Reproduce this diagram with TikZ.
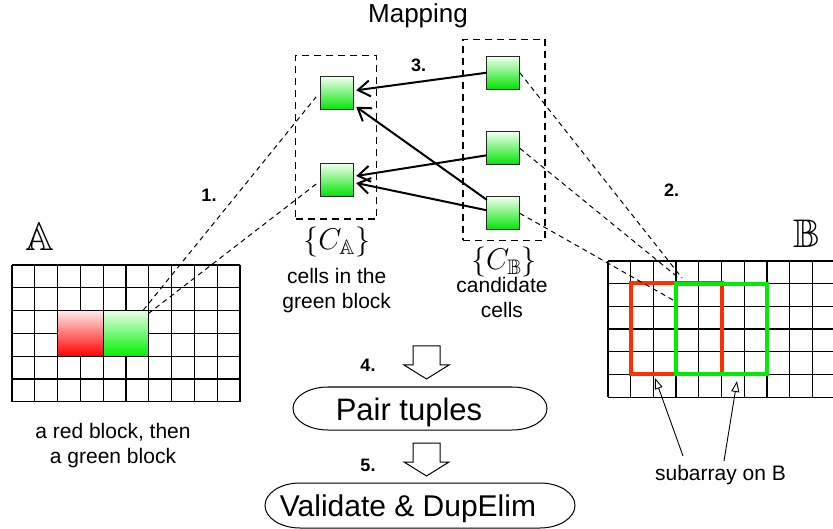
\documentclass[tikz,border=0pt]{standalone}
\usepackage{fix-cm}
\usepackage{amssymb}
\usepackage{fontspec}
\setmainfont{Liberation Sans}
\usetikzlibrary{arrows.meta,calc}
\definecolor{sqgreen}{RGB}{0,228,0}
\definecolor{sqtop}{RGB}{242,255,242}
\definecolor{blkgreen}{RGB}{0,240,0}
\definecolor{blkred}{RGB}{255,0,0}
\definecolor{rectred}{RGB}{255,48,0}
\definecolor{rectgreen}{RGB}{0,236,0}
\begin{document}
\begin{tikzpicture}[x=1pt,y=-1pt,
  gridline/.style={line width=1.25pt,black},
  cellsq/.style={draw=black!85,line width=0.8pt,minimum size=33pt,inner sep=0pt,outer sep=0pt,top color=sqtop,bottom color=sqgreen},
  setbox/.style={draw,line width=1.1pt,dash pattern=on 7pt off 5pt,inner sep=0pt,outer sep=0pt},
  linkline/.style={line width=1pt,dash pattern=on 5pt off 4pt},
  maparrow/.style={line width=2pt,-{Straight Barb[length=12pt,width=16pt]}},
  subarrow/.style={line width=0.9pt,-{Triangle[open,length=11pt,width=8pt,line width=0.9pt]}},
  blockA/.style={draw=black,line width=1pt,minimum width=45.6pt,minimum height=45.6pt,inner sep=0pt,outer sep=0pt},
  subrect/.style={line width=4pt,minimum size=90.8pt,inner sep=0pt,outer sep=0pt},
  lbl/.style={font=\fontsize{21}{25}\selectfont,inner sep=0pt,align=center},
  numlbl/.style={font=\bfseries\fontsize{18}{20}\selectfont,inner sep=0pt,anchor=base},
  proctext/.style={font=\fontsize{30}{34}\selectfont,inner sep=0pt,anchor=base},
  procline/.style={line width=1pt},
  bigletter/.style={font=\fontsize{40}{44}\selectfont,inner sep=0pt},
  setlbl/.style={font=\fontsize{30}{34}\selectfont,inner sep=0pt}
]
\useasboundingbox (0,0) rectangle (833,529);

% ---- grid A ----
\foreach \i in {0,...,10} \draw[gridline] ({12+22.8*\i},265) -- ({12+22.8*\i},401.8);
\foreach \j in {0,...,6} \draw[gridline] (12,{265+22.8*\j}) -- (240,{265+22.8*\j});
\node[blockA,top color={rgb,255:red,255;green,235;blue,235},bottom color=blkred] (redA) at (80.4,333.4) {};
\node[blockA,top color={rgb,255:red,235;green,255;blue,235},bottom color=blkgreen] (greenA) at (126,333.4) {};
\node[bigletter] (letA) at (40,236.5) {$\mathbb{A}$};

% ---- grid B ----
\begin{scope}
\clip (590,250) rectangle (833,410);
\foreach \i in {0,...,10} \draw[gridline] ({608+22.7*\i},261) -- ({608+22.7*\i},397.2);
\foreach \j in {0,...,6} \draw[gridline] (608,{261+22.7*\j}) -- (836,{261+22.7*\j});
\end{scope}
\node[subrect,draw=rectred] (redB) at (676.1,328.2) {};
\node[subrect,draw=rectgreen] (greenB) at (721.5,329.1) {};
\node[bigletter] (letB) at (806.5,234) {$\mathbb{B}$};

% ---- mapping ----
\node[anchor=base,font=\fontsize{26}{30}\selectfont,inner sep=0pt] (maptitle) at (418,23) {Mapping};
\node[setbox,minimum width=81pt,minimum height=163.3pt] (setA) at (336.2,137.4) {};
\node[setbox,minimum width=82pt,minimum height=201pt] (setB) at (504,140) {};
\node[cellsq] (L1) at (336.7,93.3) {};
\node[cellsq] (L2) at (336.7,180) {};
\node[cellsq] (R1) at (503.3,72.7) {};
\node[cellsq] (R2) at (503.3,148.3) {};
\node[cellsq] (R3) at (503.3,213.3) {};

\draw[maparrow] (R1.west) -- ($(L1.east)+(3,-3)$);
\draw[maparrow] ($(R3.north west)+(0,3)$) -- ($(L1.south east)+(3,-3)$);
\draw[maparrow] ($(R2.west)+(0,7)$) -- ($(L2.east)+(3,-4)$);
\draw[maparrow] ($(R3.west)+(0,-3)$) -- ($(L2.east)+(3,3)$);

\node[setlbl] (CA) at (336.7,242.5) {$\{C_{\mathbb{A}}\}$};
\node[setlbl] (CB) at (504,262.5) {$\{C_{\mathbb{B}}\}$};
\node[lbl,anchor=north] (cellsA) at (336.7,267.7) {cells in the\\green block};
\node[lbl,anchor=north] (cand) at (502,277.5) {candidate\\cells};

% ---- dashed links ----
\coordinate (a1) at ($(greenA.north east)+(-5.5,-0.5)$);
\coordinate (a2) at ($(greenA.north east)+(-0.5,3)$);
\draw[linkline] (a1) -- ($(L1.west)+(-4,3.5)$);
\draw[linkline] (a2) -- ($(L2.west)+(-4,4)$);
\coordinate (b1) at (682,278);
\coordinate (b2) at (680,279);
\coordinate (b3) at (673,300);
\draw[linkline] (R1.east) -- (b1);
\draw[linkline] (R2.east) -- (b2);
\draw[linkline] (R3.east) -- (b3);

% ---- numbers ----
\node[numlbl] (n1) at (209,201.7) {1.};
\node[numlbl] (n2) at (671.5,196.7) {2.};
\node[numlbl] (n3) at (418.7,71.7) {3.};
\node[numlbl] (n4) at (368,371.7) {4.};
\node[numlbl] (n5) at (368,471.7) {5.};

% ---- block arrows ----
\foreach \dy in {0,97}
  \draw[line width=1pt,fill=white] (413,346+\dy) -- (440,346+\dy) -- (440,365+\dy) -- (449,365+\dy) -- (426.5,379+\dy) -- (404,365+\dy) -- (413,365+\dy) -- cycle;

% ---- process shapes ----
\draw[procline] (328,387) -- (512,387) arc[start angle=-90,end angle=90,x radius=35,y radius=21.5] -- (328,430) arc[start angle=90,end angle=270,x radius=35,y radius=21.5] -- cycle;
\node[proctext,font=\fontsize{31}{35}\selectfont] (pairtxt) at (409,420.5) {Pair tuples};
\draw[procline] (300,483) -- (540,483) arc[start angle=-90,end angle=90,x radius=35,y radius=22.5] -- (300,528) arc[start angle=90,end angle=270,x radius=35,y radius=22.5] -- cycle;
\node[proctext] (valtxt) at (408,516) {Validate \& DupElim};

% ---- captions ----
\node[lbl,anchor=north] (redtxt) at (113,422.7) {a red block, then\\a green block};
\node[lbl,anchor=base] (subtxt) at (720.5,480) {subarray on B};
\coordinate (s1) at (683,456);
\coordinate (s2) at (724,461);
\coordinate (t1) at (655,378);
\coordinate (t2) at (737,381);
\draw[subarrow] (s1) -- (t1);
\draw[subarrow] (s2) -- (t2);
\end{tikzpicture}
\end{document}
